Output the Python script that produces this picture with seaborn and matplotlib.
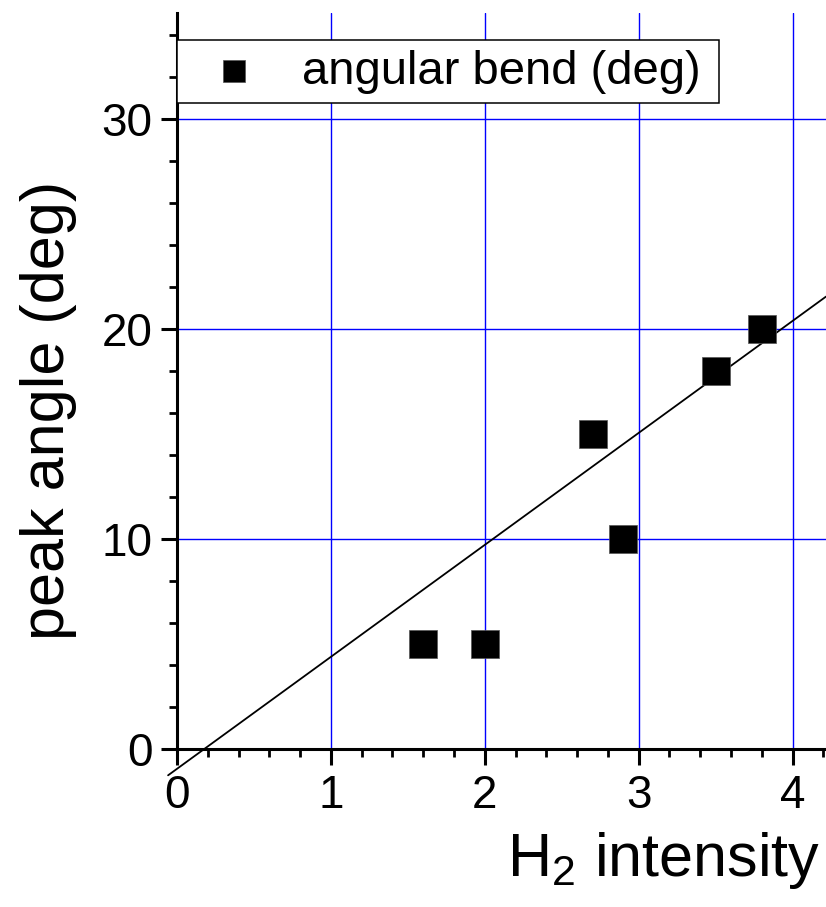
import numpy as np
import pandas as pd
import seaborn as sns
import matplotlib.pyplot as plt
from matplotlib.ticker import MultipleLocator

# data
h2_intensity = [1.6, 2.0, 2.7, 2.9, 3.5, 3.8]
peak_angle = [5, 5, 15, 10, 18, 20]
fit_slope = 5.33
fit_intercept = -0.93
fit_range = [-0.058, 4.217]

x_ticks = [0, 1, 2, 3, 4]
y_ticks = [0, 10, 20, 30]

df = pd.DataFrame({'x': h2_intensity, 'y': peak_angle})
fit_x = np.array(fit_range)
fit_y = fit_slope * fit_x + fit_intercept

sns.set_style("white")
plt.rcParams['font.family'] = ['Liberation Sans', 'Noto Sans CJK JP', 'DejaVu Sans']
plt.rcParams['mathtext.fontset'] = 'custom'
plt.rcParams['mathtext.rm'] = 'Liberation Sans'
plt.rcParams['text.color'] = 'black'
plt.rcParams['axes.labelcolor'] = 'black'
plt.rcParams['xtick.color'] = 'black'
plt.rcParams['ytick.color'] = 'black'

fig = plt.figure(figsize=(8.26, 9.07), dpi=100)
ax = fig.add_axes([0.2143, 0.1739, 0.7857, 0.8114])

ax.set_xlim(0, 4.217)
ax.set_ylim(0, 35.03)

# grid
ax.set_axisbelow(True)
ax.grid(True, which='major', color='#0000ff', linewidth=1.0, alpha=1)

# fit line
sns.lineplot(x=fit_x, y=fit_y, color='black', linewidth=1.3, ax=ax,
             clip_on=False, zorder=3)

# points
sns.scatterplot(data=df, x='x', y='y', marker='s', s=420, color='black',
                edgecolor='#555555', linewidth=0.5, ax=ax, zorder=4,
                label='angular bend (deg)')

# axes style
for side in ['top', 'right']:
    ax.spines[side].set_visible(False)
for side in ['left', 'bottom']:
    ax.spines[side].set_linewidth(2.2)
    ax.spines[side].set_color('black')

ax.set_xticks(x_ticks)
ax.set_yticks(y_ticks)
ax.xaxis.set_minor_locator(MultipleLocator(0.2))
ax.yaxis.set_minor_locator(MultipleLocator(2))
ax.tick_params(which='major', direction='out', length=11.5, width=2.2,
               labelsize=33, pad=6, color='black', labelcolor='black')
ax.tick_params(which='minor', direction='out', length=5.8, width=2.0,
               color='black')
ax.tick_params(axis='x', bottom=True, which='both')
ax.tick_params(axis='y', left=True, which='both')

ax.set_xlabel(r'H$_\mathregular{2}$ intensity', fontsize=44, loc='right',
              color='black')
ax.xaxis.set_label_coords(0.991, -0.11)
ax.xaxis.label.set_va('top')
ax.set_ylabel('peak angle (deg)', fontsize=44, color='black')
ax.yaxis.set_label_coords(-0.154, 0.46)

leg = ax.legend(loc='lower left', bbox_to_anchor=(0, 0.878, 0.835, 0.081),
                mode='expand', borderaxespad=0, fontsize=34, markerscale=0.75,
                borderpad=0.2, handlelength=2.0, handletextpad=0.45,
                fancybox=False, framealpha=1, edgecolor='black')
leg.get_frame().set_linewidth(1.1)
for t in leg.get_texts():
    t.set_color('black')

plt.savefig('out.png', dpi=100)
